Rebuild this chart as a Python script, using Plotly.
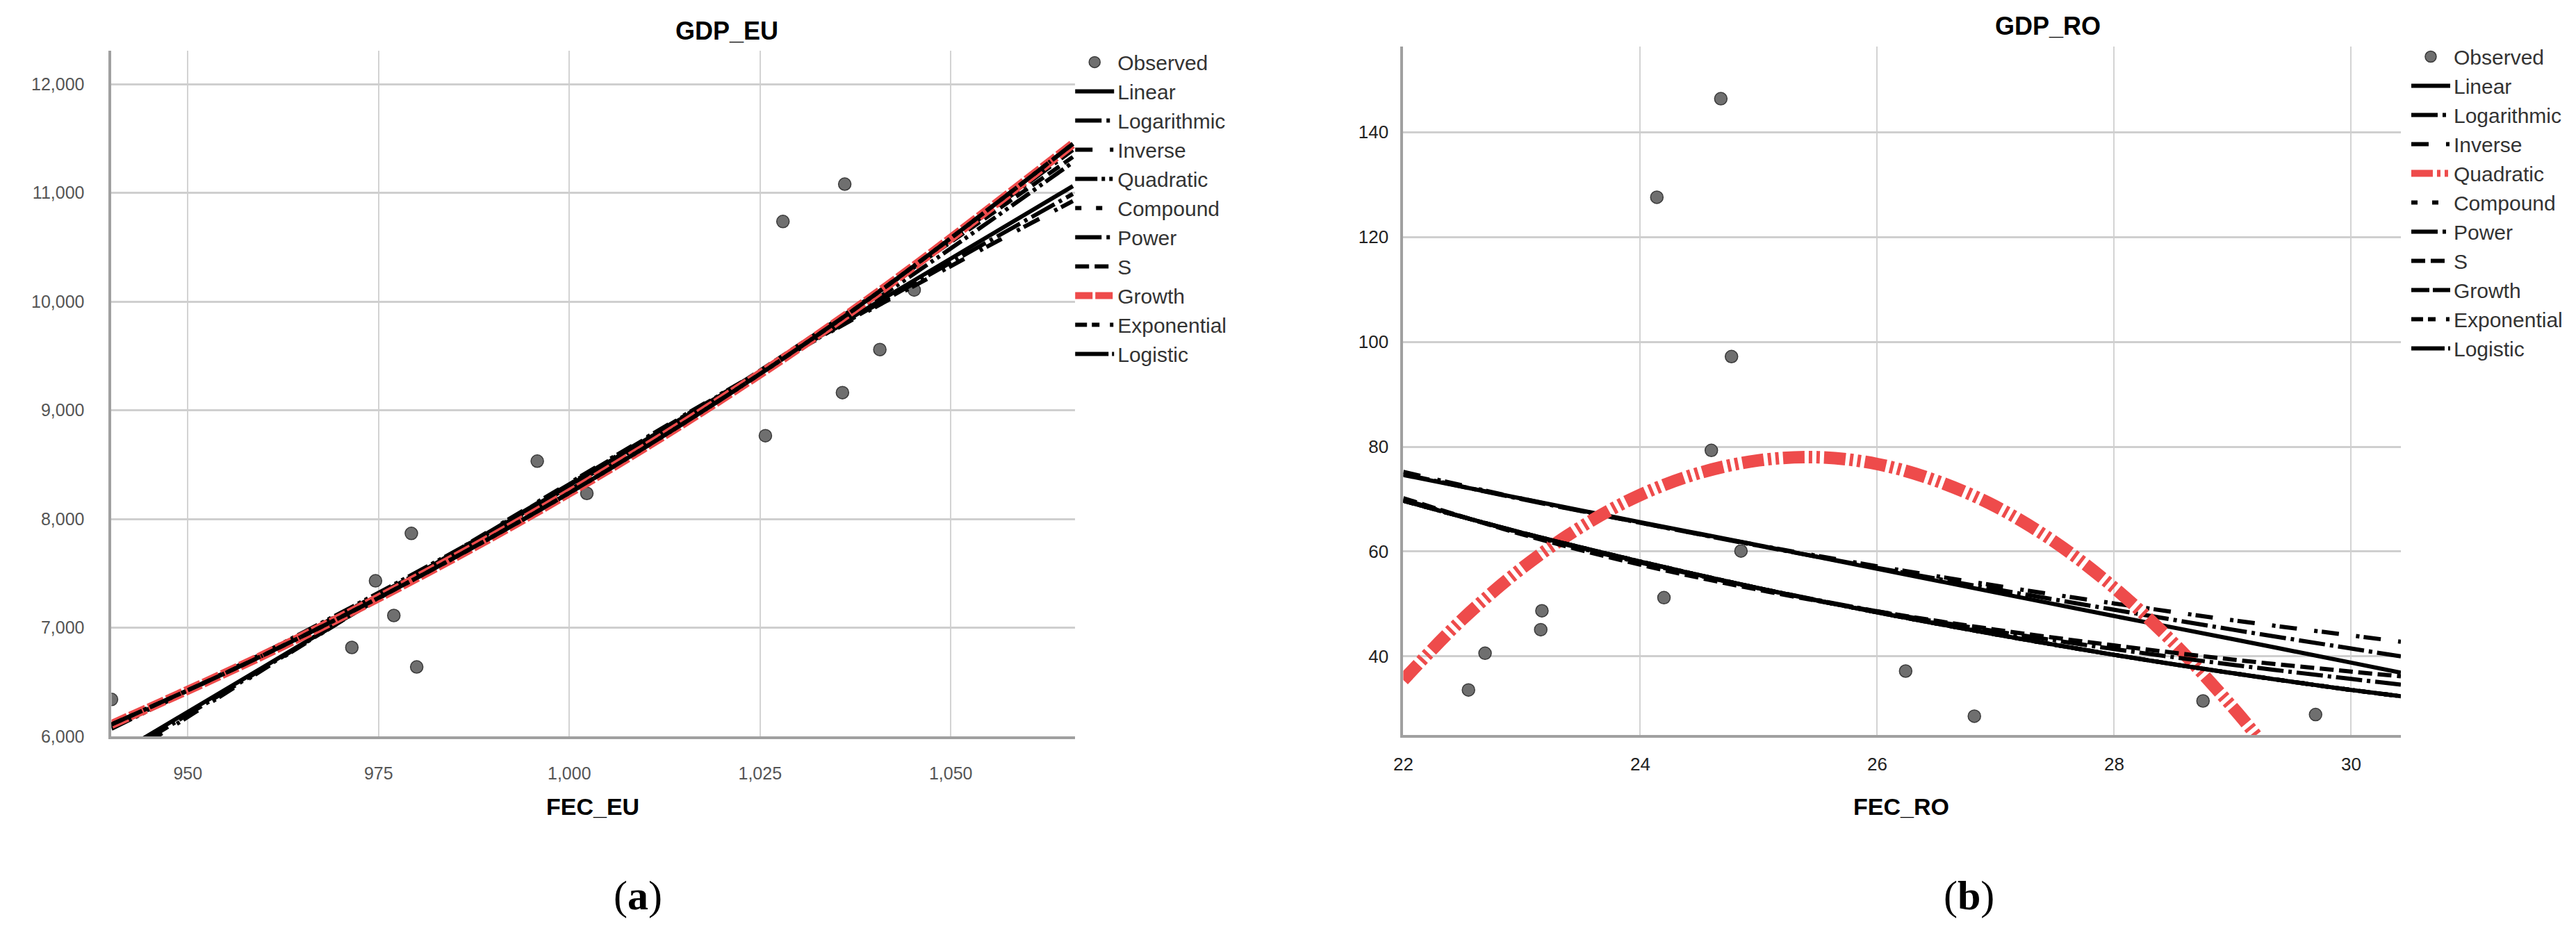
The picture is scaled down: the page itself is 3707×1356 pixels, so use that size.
import plotly.graph_objects as go
from plotly.subplots import make_subplots

W, H = 3707, 1356

# ---- observed points ----
eu_fec_obs = [940.0, 971.5, 974.6, 977.0, 979.3, 980.0, 995.8, 1002.3, 1025.7, 1028.0,
              1035.8, 1036.1, 1040.7, 1045.2]
eu_gdp_obs = [6340, 6818, 7431, 7112, 7867, 6639, 8532, 8235, 8766, 10736,
              9162, 11080, 9558, 10106]

ro_fec_obs = [22.55, 22.69, 23.16, 23.17, 24.14, 24.20, 24.60, 24.68, 24.77, 24.85,
              26.24, 26.82, 28.75, 29.70]
ro_gdp_obs = [33.6, 40.6, 45.1, 48.7, 127.6, 51.2, 79.3, 146.4, 97.2, 60.1,
              37.2, 28.6, 31.5, 28.9]

# ---- fitted curves, GDP_EU ----
eu_fit_x = [940, 960, 980, 1000, 1020, 1040, 1066]
eu_linear = [5808, 6642, 7476, 8310, 9144, 9978, 11062]
eu_logarithmic = [5770, 6630, 7480, 8320, 9150, 9960, 10990]
eu_inverse = [5735, 6620, 7485, 8330, 9155, 9945, 10925]
eu_quadratic = [6070, 6770, 7510, 8295, 9130, 10010, 11280]
eu_compound = [6110, 6750, 7458, 8240, 9105, 10060, 11450]
eu_power = [6095, 6760, 7480, 8265, 9125, 10065, 11395]
eu_s = [6085, 6765, 7495, 8285, 9140, 10065, 11330]
eu_growth = [6110, 6750, 7458, 8240, 9105, 10060, 11450]
eu_exponential = [6110, 6750, 7458, 8240, 9105, 10060, 11450]
eu_logistic = [6110, 6750, 7458, 8240, 9105, 10060, 11450]

# ---- fitted curves, GDP_RO ----
ro_fit_x = [22, 23, 24, 25, 26, 27, 28, 29, 30, 30.42]
ro_linear = [74.6, 70.1, 65.6, 61.2, 56.7, 52.2, 47.7, 43.3, 38.8, 36.9]
ro_logarithmic = [74.8, 70.0, 65.5, 61.1, 56.9, 52.8, 48.9, 45.1, 41.5, 40.0]
ro_inverse = [75.2, 70.1, 65.5, 61.2, 57.2, 53.5, 50.1, 46.9, 44.0, 42.8]
ro_compound = [69.7, 63.6, 58.1, 53.0, 48.4, 44.2, 40.3, 36.8, 33.6, 32.4]
ro_power = [69.9, 63.5, 57.9, 53.0, 48.6, 44.8, 41.4, 38.4, 35.7, 34.6]
ro_s = [70.2, 63.3, 57.5, 52.7, 48.6, 45.1, 42.1, 39.4, 37.1, 36.2]
ro_growth = [69.7, 63.6, 58.1, 53.0, 48.4, 44.2, 40.3, 36.8, 33.6, 32.4]
ro_exponential = [69.7, 63.6, 58.1, 53.0, 48.4, 44.2, 40.3, 36.8, 33.6, 32.4]
ro_logistic = [69.7, 63.6, 58.1, 53.0, 48.4, 44.2, 40.3, 36.8, 33.6, 32.4]
ro_quad_x = [22, 22.5, 23, 23.5, 24, 24.5, 25, 25.5, 26, 26.5, 27, 27.5, 28, 28.5, 29, 29.2]
ro_quadratic = [35.5, 47.1, 56.8, 64.7, 70.8, 75.0, 77.4, 78.0, 76.7, 73.5, 68.6, 61.8,
                53.1, 42.6, 30.3, 24.9]

RED = "#ee4b4b"
BLACK = "#000000"
FONT = "Arial, Liberation Sans, sans-serif"

# dash pattern of each model (black style)
styles = {
    "Linear": "solid",
    "Logarithmic": "38px,7px,5px,7px",
    "Inverse": "25px,25px,5px,6px",
    "Quadratic": "32px,6px,5px,6px,5px,6px",
    "Compound": "9px,21px",
    "Power": "38px,7px,5px,7px",
    "S": "20px,8px",
    "Growth": "26px,5px",
    "Exponential": "17px,7px,11px,15px,5px,5px",
    "Logistic": "48px,5px,3px,5px",
}

fig = make_subplots(rows=1, cols=2)


def add_obs(x, y, col, legend):
    fig.add_trace(go.Scatter(
        x=x, y=y, mode="markers", name="Observed", legend=legend,
        marker=dict(size=18, color="#6f6f6f", line=dict(color="#3a3a3a", width=1.5)),
    ), row=1, col=col)


def add_fit(name, x, y, col, legend, color=BLACK, width=6, dash=None):
    fig.add_trace(go.Scatter(
        x=x, y=y, mode="lines", name=name, legend=legend,
        line=dict(color=color, width=width, dash=dash or styles[name], shape="spline"),
    ), row=1, col=col)


# left panel
add_obs(eu_fec_obs, eu_gdp_obs, 1, "legend")
eu_curves = [("Linear", eu_linear), ("Logarithmic", eu_logarithmic), ("Inverse", eu_inverse),
             ("Quadratic", eu_quadratic), ("Compound", eu_compound), ("Power", eu_power),
             ("S", eu_s), ("Growth", eu_growth), ("Exponential", eu_exponential),
             ("Logistic", eu_logistic)]
for name, vals in eu_curves:
    if name == "Growth":
        add_fit(name, eu_fit_x, vals, 1, "legend", color=RED, width=13, dash="25px,4px")
    else:
        add_fit(name, eu_fit_x, vals, 1, "legend")

# right panel
add_obs(ro_fec_obs, ro_gdp_obs, 2, "legend2")
ro_curves = [("Linear", ro_fit_x, ro_linear), ("Logarithmic", ro_fit_x, ro_logarithmic),
             ("Inverse", ro_fit_x, ro_inverse), ("Quadratic", ro_quad_x, ro_quadratic),
             ("Compound", ro_fit_x, ro_compound), ("Power", ro_fit_x, ro_power),
             ("S", ro_fit_x, ro_s), ("Growth", ro_fit_x, ro_growth),
             ("Exponential", ro_fit_x, ro_exponential), ("Logistic", ro_fit_x, ro_logistic)]
for name, xs, vals in ro_curves:
    if name == "Quadratic":
        add_fit(name, xs, vals, 2, "legend2", color=RED, width=18,
                dash="31px,6px,5px,6px,5px,6px")
    else:
        add_fit(name, xs, vals, 2, "legend2")

axis_common = dict(showline=True, linecolor="#a0a0a0", linewidth=4, ticks="",
                   zeroline=False, showgrid=True)

fig.update_xaxes(domain=[139 / W, 1531 / W], range=[940, 1066.3],
                 tickvals=[950, 975, 1000, 1025, 1050], tickformat=",d",
                 gridcolor="#d3d3d3", gridwidth=2, ticklabelstandoff=28,
                 tickfont=dict(size=25, color="#555555"), row=1, col=1, **axis_common)
fig.update_yaxes(domain=[1 - 1063 / H, 1 - 66 / H], range=[6000, 12305],
                 tickvals=[6000, 7000, 8000, 9000, 10000, 11000, 12000], tickformat=",d",
                 gridcolor="#cfcfcf", gridwidth=3, ticklabelstandoff=30,
                 tickfont=dict(size=25, color="#555555"), row=1, col=1, **axis_common)

fig.update_xaxes(domain=[2005 / W, 3446 / W], range=[22, 30.42],
                 tickvals=[22, 24, 26, 28, 30],
                 gridcolor="#d3d3d3", gridwidth=2, ticklabelstandoff=16,
                 tickfont=dict(size=26, color="#222222"), row=1, col=2, **axis_common)
fig.update_yaxes(domain=[1 - 1061 / H, 1 - 60 / H], range=[25, 156.3],
                 tickvals=[40, 60, 80, 100, 120, 140],
                 gridcolor="#cfcfcf", gridwidth=3, ticklabelstandoff=12,
                 tickfont=dict(size=26, color="#222222"), row=1, col=2, **axis_common)

legend_common = dict(xanchor="left", yanchor="top", bgcolor="rgba(0,0,0,0)",
                     font=dict(family=FONT, size=30, color="#333333"),
                     itemwidth=56, tracegroupgap=0, itemclick=False)

annotations = [
    dict(text="<b>GDP_EU</b>", x=1028 / W, y=1 - 37 / H, font=dict(size=36)),
    dict(text="<b>GDP_RO</b>", x=2936 / W, y=1 - 30 / H, font=dict(size=36)),
    dict(text="<b>FEC_EU</b>", x=834 / W, y=1 - 1165 / H, font=dict(size=34)),
    dict(text="<b>FEC_RO</b>", x=2724 / W, y=1 - 1165 / H, font=dict(size=34)),
    dict(text="(<b>a</b>)", x=899 / W, y=1 - 1294 / H,
         font=dict(size=60, family="Liberation Serif, DejaVu Serif, serif")),
    dict(text="(<b>b</b>)", x=2822 / W, y=1 - 1294 / H,
         font=dict(size=60, family="Liberation Serif, DejaVu Serif, serif")),
]
for a in annotations:
    a.update(xref="paper", yref="paper", showarrow=False, xanchor="center", yanchor="middle")
    a["font"].setdefault("family", FONT)
    a["font"].setdefault("color", "#000000")

fig.update_layout(
    width=W, height=H,
    paper_bgcolor="white", plot_bgcolor="white",
    margin=dict(l=0, r=0, t=0, b=0),
    font=dict(family=FONT, color="#333333"),
    showlegend=True,
    legend=dict(x=1526 / W, y=1 - 56 / H, **legend_common),
    legend2=dict(x=3456 / W, y=1 - 48 / H, **legend_common),
    annotations=annotations,
)

fig.write_html("out.html")
